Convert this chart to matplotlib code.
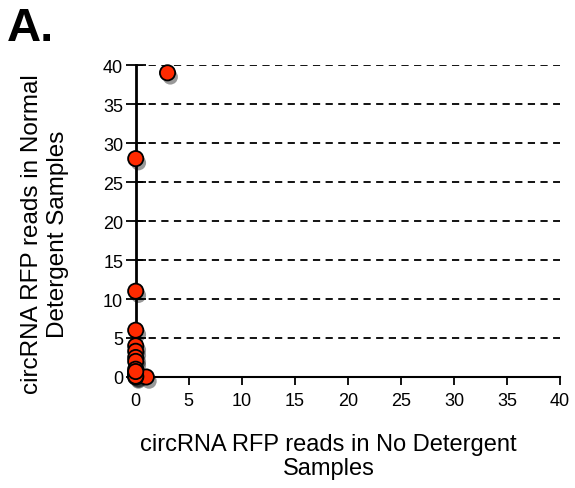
import matplotlib
matplotlib.use("Agg")
import matplotlib.pyplot as plt
import matplotlib.patheffects as pe

plt.rcParams['font.family'] = ['Liberation Sans', 'DejaVu Sans']

# reads per circRNA
no_detergent = [3, 0, 0, 0, 0, 0, 0, 0, 0, 0, 0, 1, 0, 0, 0]
normal_detergent = [39, 28, 11, 6, 4, 3.3, 2.5, 2, 1, 0.5, 0.2, 0, 0, 0.1, 0.7]
x_ticks = [0, 5, 10, 15, 20, 25, 30, 35, 40]
y_ticks = [0, 5, 10, 15, 20, 25, 30, 35, 40]

fig = plt.figure(figsize=(5.75, 4.89), dpi=100)
ax = fig.add_axes([0.236, 0.227, 0.738, 0.638])

for y in y_ticks[1:]:
    ax.axhline(y, color='black', linestyle=(0, (4, 3)), linewidth=1.3, zorder=1)

sc = ax.scatter(no_detergent, normal_detergent, s=120, color='#ff2a00',
                edgecolors='black', linewidths=1.3, zorder=5, clip_on=False)
sc.set_path_effects([pe.SimplePatchShadow(offset=(2, -3), shadow_rgbFace='black', alpha=0.4),
                     pe.Normal()])

ax.set_xlim(0, 40)
ax.set_ylim(0, 40)
ax.set_xticks(x_ticks)
ax.set_yticks(y_ticks)
ax.tick_params(axis='x', direction='out', length=6, width=1.3, labelsize=13, pad=5)
ax.tick_params(axis='y', direction='inout', length=14, width=1.3, labelsize=13, pad=2)

for side in ['top', 'right']:
    ax.spines[side].set_visible(False)
ax.spines['left'].set_linewidth(2)
ax.spines['bottom'].set_linewidth(1.5)

ax.set_ylabel("circRNA RFP reads in Normal\nDetergent Samples", fontsize=17.5, linespacing=1.2)
ax.set_xlabel("circRNA RFP reads in No Detergent\nSamples", fontsize=17, linespacing=1.1)
ax.yaxis.set_label_coords(-0.158, 0.46)
ax.xaxis.set_label_coords(0.455, -0.18)
ax.xaxis.label.set_va('top')

fig.text(0.012, 0.985, "A.", fontsize=34, fontweight='bold', va='top', ha='left')

fig.savefig("out.png", dpi=100)
